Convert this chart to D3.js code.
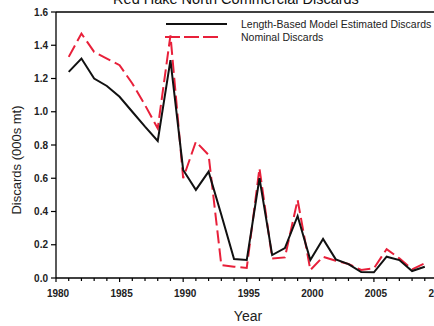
<!DOCTYPE html>
<html><head><meta charset="utf-8">
<script src="https://cdn.jsdelivr.net/npm/d3@7"></script>
<style>body{margin:0;background:#fff}svg{display:block}text{font-family:"Liberation Sans",Arial,sans-serif}</style>
</head><body><div id="chart"></div>
<script>
const years = [1981,1982,1983,1984,1985,1986,1987,1988,1989,1990,1991,1992,1993,1994,1995,1996,1997,1998,1999,2000,2001,2002,2003,2004,2005,2006,2007,2008,2009];
const lengthBased = [1.24,1.32,1.20,1.155,1.09,1.00,0.91,0.824,1.31,0.65,0.53,0.64,0.38,0.114,0.108,0.60,0.138,0.18,0.373,0.108,0.235,0.112,0.084,0.036,0.034,0.128,0.108,0.042,0.068];
const nominal = [1.33,1.47,1.36,1.32,1.28,1.17,1.04,0.90,1.46,0.60,0.82,0.74,0.078,0.068,0.06,0.66,0.118,0.124,0.47,0.048,0.128,0.104,0.084,0.048,0.058,0.174,0.118,0.052,0.088];
const yTicks = [0,0.2,0.4,0.6,0.8,1.0,1.2,1.4,1.6];
const xTicks = [1980,1985,1990,1995,2000,2005,2010];
const seriesNames = ["Length-Based Model Estimated Discards","Nominal Discards"];
const title = "Red Hake North Commercial Discards";

const W=434,H=326;
const svg=d3.select("#chart").append("svg").attr("width",W).attr("height",H);
const x=d3.scaleLinear().domain([1980,2010]).range([56,437.5]);
const y=d3.scaleLinear().domain([0,1.6]).range([278,12]);
const red="#e8203a";

svg.append("text").attr("x",236).attr("y",3.5).attr("text-anchor","middle").attr("font-size",14.5).attr("fill","#111").text(title);

// x axis
const xa=svg.append("g").attr("transform","translate(0,278)");
xa.append("line").attr("x1",56).attr("x2",440).attr("stroke","#000").attr("stroke-width",1.3);
xa.selectAll("line.minor").data(d3.range(1980,2011)).join("line").attr("class","minor")
  .attr("x1",d=>x(d)).attr("x2",d=>x(d)).attr("y1",0).attr("y2",d=>d%5===0?4:3).attr("stroke","#000").attr("stroke-width",1.2);
xa.selectAll("text").data(xTicks).join("text").attr("x",d=>x(d)+2).attr("y",19).attr("text-anchor","middle")
  .attr("font-size",10).attr("font-weight","bold").attr("fill","#222").text(d=>d);

// y axis
const ya=svg.append("g");
ya.append("line").attr("x1",56).attr("x2",56).attr("y1",12).attr("y2",278).attr("stroke","#000").attr("stroke-width",1.3);
ya.selectAll("line.t").data(yTicks).join("line").attr("class","t").attr("x1",51).attr("x2",56).attr("y1",d=>y(d)).attr("y2",d=>y(d)).attr("stroke","#000").attr("stroke-width",1.2);
ya.selectAll("text").data(yTicks).join("text").attr("x",48).attr("y",d=>y(d)+3.5).attr("text-anchor","end")
  .attr("font-size",10).attr("font-weight","bold").attr("fill","#222").text(d=>d.toFixed(1));
// top frame
svg.append("line").attr("x1",56).attr("x2",W).attr("y1",12).attr("y2",12).attr("stroke","#000").attr("stroke-width",1.3);

svg.append("text").attr("transform","translate(21,160) rotate(-90)").attr("text-anchor","middle").attr("font-size",13).attr("fill","#222").text("Discards (000s mt)");
svg.append("text").attr("x",248).attr("y",321).attr("text-anchor","middle").attr("font-size",14).attr("fill","#222").text("Year");

const line=d3.line().x((d,i)=>x(years[i])).y(d=>y(d));
svg.append("path").datum(nominal).attr("d",line).attr("fill","none").attr("stroke",red).attr("stroke-width",2).attr("stroke-dasharray","13,5");
svg.append("path").datum(lengthBased).attr("d",line).attr("fill","none").attr("stroke","#111").attr("stroke-width",2);

// legend
svg.append("line").attr("x1",166).attr("x2",227).attr("y1",24).attr("y2",24).attr("stroke","#111").attr("stroke-width",2.2);
svg.append("line").attr("x1",165).attr("x2",221).attr("y1",37).attr("y2",37).attr("stroke",red).attr("stroke-width",2.2).attr("stroke-dasharray","15,4");
svg.append("text").attr("x",241).attr("y",28).attr("font-size",10.5).attr("fill","#222").text(seriesNames[0]);
svg.append("text").attr("x",241).attr("y",41).attr("font-size",10.5).attr("fill","#222").text(seriesNames[1]);
</script></body></html>
